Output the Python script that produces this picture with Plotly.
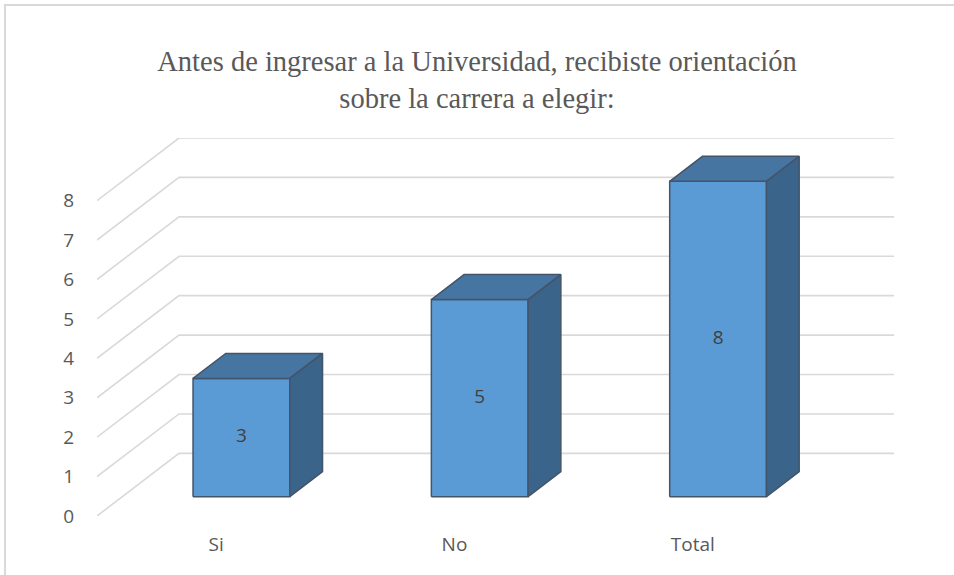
import plotly.graph_objects as go

# ---- data ----
categories = ["Si", "No", "Total"]
values = [3, 5, 8]
y_ticks = [0, 1, 2, 3, 4, 5, 6, 7, 8]
title_text = "Antes de ingresar a la Universidad, recibiste orientación<br>sobre la carrera a elegir:"

# ---- 3D oblique projection settings (style) ----
W, H = 954, 575
ML, MR, MT, MB = 97, 60, 138, 59
PW, PH = W - ML - MR, H - MT - MB
KX = 82 / 238.3      # depth shift in category units
KY = 62.7 / 39.45    # depth shift in value units
D0, D1 = 0.308, 0.707  # bar depth span (fraction of floor depth)
GAP = 0.297           # gap on each side of bar within category
ymax = max(y_ticks) + KY
xmax = len(categories) + KX

FRONT = "#5B9BD5"
TOP = "#4775A1"
SIDE = "#3A6489"
EDGE = "#44546A"
GRID = "#D9D9D9"
TXT = "#595959"
FONT = "Open Sans"

fig = go.Figure()

# gridlines (side wall diagonals + back wall horizontals)
gx, gy = [], []
for t in y_ticks:
    gx += [0, KX, xmax, None]
    gy += [t, t + KY, t + KY, None]
fig.add_trace(go.Scatter(x=gx, y=gy, mode="lines",
                         line=dict(color=GRID, width=1.6),
                         hoverinfo="skip", showlegend=False))

# bars
lx, ly, lt = [], [], []
dd = D1 - D0
for i, (c, v) in enumerate(zip(categories, values)):
    xl = i + GAP + D0 * KX
    xr = i + 1 - GAP + D0 * KX
    yb = D0 * KY
    yt = v + D0 * KY
    ox, oy = dd * KX, dd * KY
    faces = [
        (FRONT, [xl, xr, xr, xl, xl], [yb, yb, yt, yt, yb]),
        (TOP, [xl, xr, xr + ox, xl + ox, xl], [yt, yt, yt + oy, yt + oy, yt]),
        (SIDE, [xr, xr + ox, xr + ox, xr, xr], [yb, yb + oy, yt + oy, yt, yb]),
    ]
    for col, fx, fy in faces:
        fig.add_trace(go.Scatter(x=fx, y=fy, mode="lines", fill="toself",
                                 fillcolor=col, line=dict(color=EDGE, width=1.5),
                                 hoverinfo="skip", showlegend=False))
    lx.append((xl + xr) / 2)
    ly.append((yb + yt) / 2)
    lt.append(str(v))

fig.add_trace(go.Scatter(x=lx, y=ly, mode="text", text=lt,
                         textfont=dict(family=FONT, size=19, color="#404040"),
                         hoverinfo="skip", showlegend=False))

# outer chart border (only top and left edges fall inside the picture)
fig.add_shape(type="rect", xref="paper", yref="paper",
              x0=(5 - ML) / PW, x1=(W + 10 - ML) / PW,
              y0=(H - MB - (H + 10)) / PH, y1=(H - MB - 5) / PH,
              line=dict(color=GRID, width=2))

fig.update_layout(
    width=W, height=H, autosize=False,
    margin=dict(l=ML, r=MR, t=MT, b=MB),
    paper_bgcolor="white", plot_bgcolor="white",
    title=dict(text=title_text, x=0.5, xanchor="center", y=1 - 71 / H, yanchor="middle",
               font=dict(family="Liberation Serif", size=28.5, color=TXT)),
    xaxis=dict(range=[0, xmax], showgrid=False, zeroline=False, showline=False,
               tickmode="array", tickvals=[i + 0.5 for i in range(len(categories))],
               ticktext=categories, ticks="", ticklabelstandoff=15,
               tickfont=dict(family=FONT, size=19, color=TXT), fixedrange=True),
    yaxis=dict(range=[0, ymax], showgrid=False, zeroline=False, showline=False,
               tickmode="array", tickvals=y_ticks, ticktext=[str(t) for t in y_ticks],
               ticks="", ticklabelstandoff=22,
               tickfont=dict(family=FONT, size=19, color=TXT), fixedrange=True),
    hovermode=False, showlegend=False,
)

fig.write_html("out.html", config={"displayModeBar": False},
               post_script="document.body.style.margin='0';")
